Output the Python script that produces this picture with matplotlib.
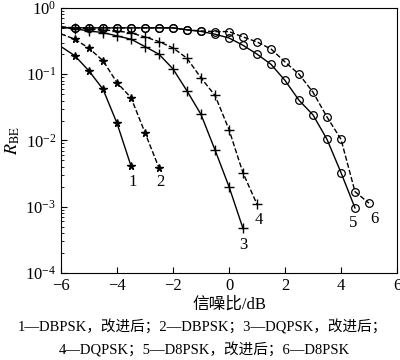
import numpy as np
import matplotlib
matplotlib.use("Agg")
import matplotlib.pyplot as plt

# 信噪比 (dB)
snr_1 = [-6, -5.5, -5, -4.5, -4, -3.5]
ber_1 = [0.261, 0.189, 0.112, 0.0593, 0.0182, 0.00412]          # DBPSK 改进后

snr_2 = [-6, -5.5, -5, -4.5, -4, -3.5, -3, -2.5]
ber_2 = [0.405, 0.337, 0.246, 0.160, 0.0745, 0.0443, 0.0131, 0.00385]   # DBPSK

snr_3 = [-6, -5.5, -5, -4.5, -4, -3.5, -3, -2.5, -2, -1.5, -1, -0.5, 0, 0.5]
ber_3 = [0.517, 0.482, 0.450, 0.424, 0.378, 0.337, 0.261, 0.200, 0.120,
         0.0559, 0.0247, 0.00719, 0.00201, 0.00047]              # DQPSK 改进后

snr_4 = [-6, -5.5, -5, -4.5, -4, -3.5, -3, -2.5, -2, -1.5, -1, -0.5, 0, 0.5, 1]
ber_4 = [0.517, 0.499, 0.482, 0.466, 0.450, 0.419, 0.365, 0.310, 0.249,
         0.174, 0.0878, 0.0478, 0.0146, 0.00323, 0.00109]        # DQPSK

snr_5 = [-6, -5.5, -5, -4.5, -4, -3.5, -3, -2.5, -2, -1.5, -1, -0.5, 0,
         0.5, 1, 1.5, 2, 2.5, 3, 3.5, 4, 4.5]
ber_5 = [0.508, 0.50, 0.50, 0.50, 0.50, 0.50, 0.50, 0.50, 0.50, 0.466,
         0.442, 0.401, 0.352, 0.273, 0.201, 0.141, 0.0805, 0.0404, 0.0243,
         0.0104, 0.00327, 0.000957]                              # D8PSK 改进后

snr_6 = [-6, -5.5, -5, -4.5, -4, -3.5, -3, -2.5, -2, -1.5, -1, -0.5, 0,
         0.5, 1, 1.5, 2, 2.5, 3, 3.5, 4, 4.5, 5]
ber_6 = [0.50, 0.50, 0.50, 0.50, 0.50, 0.50, 0.50, 0.50, 0.50, 0.466,
         0.450, 0.439, 0.439, 0.365, 0.307, 0.240, 0.153, 0.100, 0.0534,
         0.0226, 0.0104, 0.00169, 0.00113]                       # D8PSK

curve_labels = ["1", "2", "3", "4", "5", "6"]
label_pos = [(-3.44, 0.0024), (-2.44, 0.0024), (0.51, 0.000265),
             (1.08, 0.00063), (4.44, 0.00057), (5.21, 0.00065)]

caption_1 = "1—DBPSK，改进后；2—DBPSK；3—DQPSK，改进后；"
caption_2 = "4—DQPSK；5—D8PSK，改进后；6—D8PSK"

serif = ["Liberation Serif", "Noto Sans CJK SC"]
plt.rcParams["font.family"] = serif
plt.rcParams["mathtext.fontset"] = "stix"
plt.rcParams["axes.unicode_minus"] = True

fig = plt.figure(figsize=(4, 3.6), dpi=100)
ax = fig.add_axes([0.1525, 0.2417, 0.84, 0.7363])

# the point at -6 dB sits on the axis, no marker drawn there
skip = slice(1, None)
ax.plot(snr_1, ber_1, "k-", marker="*", ms=5.5, lw=1, markevery=skip)
ax.plot(snr_2, ber_2, "k--", marker="*", ms=5.5, lw=1, markevery=skip)
ax.plot(snr_3, ber_3, "k-", marker="+", ms=7, mew=1, lw=1, markevery=skip)
ax.plot(snr_4, ber_4, "k--", marker="+", ms=7, mew=1, lw=1, markevery=skip)
ax.plot(snr_5, ber_5, "k-", marker="o", ms=5.5, mfc="none", mew=0.9, lw=1,
        markevery=skip)
ax.plot(snr_6, ber_6, "k--", marker="o", ms=5.5, mfc="none", mew=0.9, lw=1,
        markevery=skip)

for t, (x, y) in zip(curve_labels, label_pos):
    ax.text(x, y, t, fontsize=12, ha="center", va="center")

ax.set_yscale("log")
ax.set_xlim(-6, 6)
ax.set_ylim(1e-4, 1)
ax.set_xticks([-6, -4, -2, 0, 2, 4, 6])
ax.tick_params(which="both", direction="in", labelsize=12)
ax.tick_params(which="major", length=4)
ax.tick_params(which="minor", length=2)
ax.set_xlabel("信噪比/dB", fontsize=12, labelpad=2)
ax.set_ylabel(r"$R_{\rm BE}$", fontsize=13, labelpad=2)

fig.text(0.505, 0.092, caption_1, fontsize=10.5, ha="center", va="center")
fig.text(0.51, 0.028, caption_2, fontsize=10.5, ha="center", va="center")

fig.savefig("out.png", dpi=100)
